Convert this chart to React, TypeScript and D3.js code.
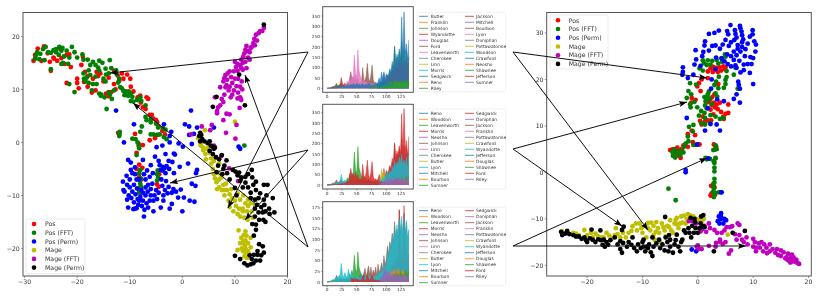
import React from "react";
import * as d3 from "d3";

type P = [number, number];

// ---------- left scatter ----------
const leftPos: P[] = [[-28.3,15.4],[-28,16.5],[-27.5,17.7],[-26.3,18.1],[-25.6,16.8],[-24.5,16],[-24,17.5],[-24.4,15.8],[-23,15.9],[-23.3,17.7],[-22,16.5],[-21.5,16.6],[-25,13.5],[-22.4,14.8],[-21.2,14.2],[-22,11.2],[-18.9,16.1],[-18.5,13.3],[-20,12],[-20,11.2],[-19.7,10.2],[-18.7,11.4],[-18,12.5],[-18,10.5],[-17.2,9.4],[-16.5,9.8],[-16,12.5],[-15.6,13],[-15,11.5],[-14.5,9.2],[-14,8.7],[-13.5,9.5],[-13,13.5],[-12.7,10],[-12.3,12.6],[-12,11.6],[-11.5,13],[-11.2,12],[-10.8,9.6],[-10.5,12.8],[-9.9,12],[-9.8,10.5],[-9.3,9.6],[-8.5,8.5],[-8,8.8],[-7.9,7.5],[-7.5,6.6],[-7,6.3],[-6.8,8.5],[-6.5,8.2],[-6.2,5.2],[-5.8,5.2],[-5.5,4.5],[-5,4.2],[-4.8,3.8],[-4.5,3],[-3.8,2.2],[-4.7,1.4],[-3.3,1.5],[-12.2,1.8],[-12,1.5],[-8.3,-.3],[-7.5,-.5],[-8.7,-2],[-8.7,-5],[-8.2,-6.5],[-7.8,-7],[-7.9,-8.6],[-8.1,-9.5],[-4.8,-7.9],[-4.5,-8.4],[-8.2,-4.2],[-7.6,-4.8],[-4.4,-6],[-17,12],[-16.3,13.3],[-14,12.2],[-19.2,14.6],[-13,11],[-26.8,15.4],[-25.2,15.2],[-23.8,15.4],[-9,1.6],[-6.2,.4],[-5.2,.8]];
const leftPosFFT: P[] = [[-28,15.8],[-27.8,16.5],[-27.6,17],[-27.2,15.7],[-27,16.7],[-26.5,17.6],[-26,18],[-26.2,15.5],[-25.5,17],[-25,16.9],[-24.5,17.4],[-24,17.6],[-23.5,16.5],[-24,17],[-23,17.3],[-23.4,18],[-22.8,17.8],[-22.5,16.2],[-22,17.3],[-21.5,16],[-21,18],[-20.5,17],[-20,16],[-19,16.6],[-25,13.8],[-23,14.8],[-22.7,15],[-21.7,14.8],[-21.5,11],[-20.5,9.5],[-18.8,15.6],[-18,15.6],[-17.5,14.6],[-17,15.2],[-16.5,14.6],[-15.8,15.4],[-16,14.1],[-15.2,15],[-14.6,13.9],[-13.8,15.5],[-13.5,14],[-14,13],[-17.8,13.6],[-18.8,13],[-18.2,12.2],[-17.5,12.7],[-16.5,12.4],[-15.8,13.5],[-15,12],[-14.5,12.8],[-18.7,12],[-18.4,11.5],[-17.8,11.2],[-17,11],[-14.6,11.5],[-16.3,11],[-17.2,9.8],[-15.8,9.2],[-15.4,9],[-14.8,8.5],[-15.5,8.8],[-14,9.5],[-13.8,9],[-13.4,8.2],[-12.6,13.6],[-12.5,12.9],[-12,12],[-12.2,11.3],[-11.8,10.4],[-11.2,9.7],[-10.8,9.5],[-10.2,9.6],[-9.8,9.2],[-9.5,8.6],[-9.8,7.8],[-9.3,7.7],[-8.6,8],[-8,8.5],[-7.8,7.8],[-7,7],[-10.3,8.8],[-11.5,10.2],[-13,9.8],[-11,8.9],[-14.4,6.3],[-7,4.8],[-6.8,4.2],[-6,4.5],[-6,3.8],[-5,3.5],[-4.6,2.8],[-3.7,2.7],[-3.2,2.4],[-4.8,1.4],[-4.3,1.5],[-3.5,1],[-3,.6],[-7.7,3],[-8,2],[-6,1.5],[-5.5,1.5],[-11.9,2],[-12,1.6],[-12,1.2],[-9.5,.7],[-8.9,.6],[-8.5,0],[-8.3,-.7],[-8.2,-1.1],[-8.7,-2.4],[-8,-5.2],[-8.2,-5.8],[-7.9,-6.8],[-8.1,-7.2],[-8,-7.8],[-7.9,-8.3],[-8,-9],[-8.2,-9.4],[-4.7,-5.3],[-4.8,-6],[-4.6,-6.6],[-4.8,-7.2],[11.8,-.6]];
const leftPosPerm: P[] = [[-12.6,6],[1.65,6],[-9.2,3.4],[-3.5,3.4],[.5,3.4],[1.3,3],[2.8,2.8],[-2.1,2],[-2.4,1.2],[1.3,1.4],[2.2,1.6],[-11.1,0],[-2.4,0],[-.7,-.2],[.1,-.8],[1.8,-.3],[-4.9,-.9],[-3.8,-.6],[10.7,-.8],[11,-1.2],[6,2.8],[-10.3,-3.3],[-9.8,-3.8],[-7.5,-3.3],[-5.2,-2.7],[-3.2,-2.2],[-1.6,-2.1],[-1.4,-2.3],[-2.6,-3.5],[-1.9,-3.7],[1.1,-4],[-.5,-4.6],[-4.3,-4.3],[-3.7,-4.6],[-4.1,-5.2],[-3.4,-4.9],[-6,-4.3],[2.8,-5.2],[2.6,-5.8],[-1.6,-5.8],[-9.8,-5.2],[-10.6,-6.3],[-11.3,-7.4],[-11.2,-9],[-11,-9.3],[-10.5,-10.8],[-10.3,-12.3],[-9.3,-12.6],[-8.7,-12.4],[-7.3,-14],[-5.5,-13],[-4.1,-12.3],[-2.4,-12.5],[-2,-11.6],[-3.6,-11],[-.8,-10.4],[.3,-10.4],[0,-13],[1.4,-11],[2.3,-11.2],[1.8,-7.8],[2.5,-8.2],[-1.7,-8.8],[-.3,-8.9],[-2.6,-8.4],[-3.1,-7.3],[-9,-6],[-8.7,-7],[-9.2,-8],[-8.6,-8.7],[-9.5,-9.3],[-8.9,-9.8],[-9.7,-10.5],[-8.5,-10.7],[-9.2,-11.3],[-8.4,-11.8],[-9,-12.5],[-8,-10.3],[-7.5,-11],[-7,-10],[-6.8,-11.5],[-7.7,-12],[-7.2,-12.7],[-6.5,-12.3],[-6.2,-11],[-6,-10],[-5.5,-11],[-6.6,-9.3],[-7,-8.5],[-6.5,-8],[-6,-8.8],[-5.7,-7.8],[-5,-9],[-4.5,-9.5],[-5.3,-10],[-4.8,-10.7],[-7,-7],[-6.2,-6.5],[-7.3,-6],[-6.7,-5.3],[-5.6,-5.8],[-4,-7],[-3.8,-8.2],[-3.3,-9],[-2.8,-9.6],[-3.6,-10],[-2,-9.5],[-1.2,-9.3],[-10,-8.5],[-10.5,-8],[-10,-7],[-9.5,-5.8],[-9,-4.7],[-10.2,-10],[-4.5,-3.5],[-3.8,-5.3],[-3.2,-5.8],[-3,-4.5],[-2.5,-5],[-8.2,-7],[-7.5,-9.5],[-8.2,-11],[-7.8,-9]];
const leftMage: P[] = [[3.5,-.6],[4,-1.5],[4.4,-2.2],[4,-1],[4.8,-1.2],[5.2,-2],[5.5,-3],[6,-3.5],[4.5,-3.2],[5,-.8],[5.5,-4],[5.8,-5],[6,-6],[6.2,-6.8],[6.5,-7.5],[6.8,-5.8],[7,-7],[7,-8.5],[7.5,-9],[8,-10],[7.8,-8],[8.3,-7.8],[8.5,-9],[8.8,-11],[9,-9.8],[9.5,-10.5],[9,-12.2],[9.7,-13],[10,-11],[10.2,-12],[10.5,-13.5],[10.8,-12.5],[11,-14],[11,-10.8],[11.5,-12.5],[11.5,-13],[11.8,-14.2],[12,-11.5],[12.3,-13],[12.5,-12],[13,-11.5],[13.2,-13],[13.8,-11.8],[14,-10.8],[10.7,-16.6],[12,-16.8],[11.2,-18],[11,-19],[11.7,-17.5],[11.5,-19],[12,-18.5],[12.5,-19],[12,-20],[12,-20.8],[12.5,-20.5],[11.8,-21.5],[12.3,-21.8],[13,-18],[13,-19.8],[11.3,-20],[12.7,-21],[10.5,-20.3],[11.5,-20.5],[7,-4],[4.3,2.3],[10,3.9],[3,.8],[3.5,-.2],[8,-9],[9.3,-8.8],[10.5,-9.6],[11.6,-10],[12.5,-10.8],[12.4,-14.6],[13.4,-14.2],[7.4,-6.6],[6.6,-8.8],[11.9,-19.5],[12.2,-17.6],[11.6,-18.6]];
const leftMageFFT: P[] = [[15.5,21.6],[15.2,21],[14.8,21],[14,20.3],[14.5,20.6],[13.7,19.5],[14.2,19.2],[13.5,18.7],[13.8,18.3],[13.2,18],[12.5,17.2],[12,17.5],[12.8,17],[11.8,16.8],[12.5,16],[11.6,16.2],[12.8,15.6],[11.2,15.6],[11.5,15],[12,15.2],[10.5,14.8],[11,14.5],[10.2,14.2],[10,15.2],[10.5,13.5],[11.5,13.7],[12.2,14],[9.8,13.4],[9,13.4],[8.6,13],[9.3,12.3],[8.2,12.7],[8,12.1],[7.8,11.5],[8.5,11.8],[10,12],[10.6,12],[11.3,11.5],[8.4,10.8],[9,10.5],[8.8,9.8],[7.2,10.4],[8.2,10.4],[11,10.5],[11.4,10],[10.6,9.4],[9.8,9.8],[9.5,9],[9.2,8.5],[10.5,8.3],[11,8.5],[8,9],[7.5,8.2],[6.2,8.5],[7.8,7.6],[11.2,8],[7.2,7],[6.8,6.6],[6.6,5.9],[10.9,6.5],[6.6,5.5],[8.4,5.4],[9,5.3],[7.8,4.2],[10.3,3.3],[8.3,1.8],[10.1,.7],[5.6,3.3],[3.7,3],[5.3,2.3],[1.7,1.5],[8.9,-4.9],[10.6,-7.3],[6,-.6],[7.4,-2.6],[13,17.8],[12.2,18.2],[11.2,14],[9.5,11.2],[10.3,10.6]];
const leftMagePerm: P[] = [[3.2,1.2],[3.4,1.8],[3.6,1.4],[3.8,.6],[3.4,.2],[4.2,.2],[4.8,-.1],[5.2,.2],[5.4,-.6],[5.8,-.8],[6,-1.2],[6.2,-1],[5.2,-1.6],[5.8,-2.2],[6.4,-2.8],[7,-3.2],[7.5,-2.4],[6.8,-4.4],[7.8,-5],[8,-4.4],[8.4,-3.4],[6.5,-5.6],[7.6,-6],[8.5,-5.8],[9,-7],[9.6,-5.2],[10.1,-5.5],[10.5,-6.2],[10.8,-5.7],[11.2,-6.6],[12,-6.5],[11,-7.3],[12,-7.6],[12.5,-6],[13.2,-5.2],[13.3,-6.6],[14,-7.4],[10,-8.6],[10.3,-10],[11.5,-8.5],[12.5,-8.5],[13,-9.5],[13.5,-8],[14,-9],[14.8,-9.6],[15.5,-8],[16.2,-8],[13,-10.5],[13.8,-10.8],[14.5,-10.5],[15.5,-10.8],[16,-10],[17.2,-10.5],[14.2,-11.8],[15,-12.2],[15.6,-11.8],[16.5,-12.5],[13.8,-12.5],[14.5,-13.2],[15.3,-13.2],[15.8,-13],[16.6,-13.5],[17.5,-13.2],[14.6,-14.6],[15.4,-14.6],[13.8,-14],[13.3,-15.4],[14,-15.5],[15.8,-15],[14,-16.5],[13.6,-17.6],[14.6,-19.2],[15.3,-19.6],[15.5,-20.8],[14.3,-20.5],[10,-21.4],[11,-22],[11.8,-22.8],[12.4,-23.2],[13,-23],[13.5,-22.8],[13.2,-22],[14,-22.3],[14.3,-21.2],[13.6,-21.2],[12.8,-21.3],[14.8,-22.3],[15,-21.3],[15.5,22.2],[10.8,12.8],[6.5,8.6],[5.8,6.7],[11.9,7]];

// ---------- right scatter ----------
const rightPos: P[] = [[1.8,21.7],[2.3,22.4],[2.7,21.6],[3.3,22.5],[3.6,21.6],[4.2,21.9],[4.6,22.8],[4.9,22.2],[2.8,22.7],[1.8,20.3],[.7,20],[.2,19.2],[-.1,18.5],[.5,17.5],[3.7,19],[-1.1,16],[-.4,15.6],[-1.2,15],[3,16.8],[2.6,16.2],[2.2,15.6],[1.8,15.1],[2.5,14.5],[2.3,13.5],[3.1,14],[3.6,13.6],[4,15],[5.5,14.6],[5,12.6],[4.6,12],[5.5,12.8],[4.7,11.5],[2.8,12.5],[2.4,11.2],[1.8,11.2],[.9,12],[.4,11.1],[.7,10.3],[-1.1,9],[-.5,8],[-1.8,8.2],[-.9,6.5],[-.4,5.9],[.3,6],[2.9,6],[3.2,5],[-4.5,5],[-4,4.2],[-3.6,4.6],[-3.2,4],[-3.1,3.1],[-5,4.8],[-3.7,5.3],[-1.8,5.5],[-2.6,5.8],[-3.2,4.8],[2.4,-2.9],[2.8,-2.5],[3,-3.2],[2.5,-4.5],[2.6,-5],[3.1,-4.8],[2.3,-5],[2.9,2.3],[3.2,3],[3,4.9],[3.3,5.6],[1.2,10.8],[3.4,14.6],[4.2,13],[2.9,15],[5,22.6],[3,22],[3.9,22.6],[-3.5,3.6],[-2.9,5]];
const rightPosFFT: P[] = [[1.1,23.5],[.9,24.1],[1.6,23.1],[.3,22.4],[.9,21.9],[1.8,24.1],[2.6,24],[3.4,24.2],[2.3,23.2],[3.7,23.4],[4.3,24.6],[4.9,25.4],[5,24.9],[4.4,23.8],[5.2,21.8],[5.2,20.5],[5,19.9],[5,19],[4.7,18.2],[3.8,20.6],[3.3,19.5],[3,18.8],[3.7,18.1],[3.2,17],[2,17.4],[1.8,16.8],[-.3,18.9],[-1.4,19.2],[-1.7,17.5],[-1.2,16.8],[-2,16],[-.6,15.2],[-1.4,14.6],[-1.3,14],[-.1,14],[1.2,16.2],[1.8,16],[2.2,15.8],[3.5,16.3],[2.5,14.7],[1.4,15.3],[1.3,14.4],[1.6,13.8],[1.2,12.8],[.6,13.2],[.2,12.2],[1.3,11.7],[2.3,12.3],[3.2,12],[4,11.5],[4.6,11.7],[2.2,10.6],[1.3,10.3],[.6,10.6],[-.8,10.2],[-1.6,9.8],[-.9,8.8],[-1.8,7.7],[-1.7,6.7],[-2.2,6.2],[-2.5,5.5],[-.8,5.9],[3.2,5.8],[2.8,4.8],[3.4,5],[-4.2,5],[-4.6,4.4],[-3.8,4.2],[-3.2,3.7],[-4.1,3.2],[-4.5,3.6],[-2.6,4.3],[-3.2,4.6],[-5.3,-3.5],[-4,-6],[1.4,3.1],[1.6,2.8],[2.2,2.9],[3,.2],[3,1],[3,2],[3.2,3.1],[2.9,2.4],[3,-1.4],[3,-2.2],[2.8,-2.8],[2.9,-3.4],[3.8,-4.3],[3.2,-4.4],[2.9,-5.3],[2.9,-4.8],[2.8,-4.1],[6.5,21],[6.8,22.5],[7.2,18]];
const rightPosPerm: P[] = [[5.9,31.7],[7.6,31.5],[7.7,31],[7.9,30.3],[3.8,30.5],[3,30],[2,29.8],[5.3,30.4],[5.5,29.7],[6.7,30.6],[6.8,29.8],[8,29.5],[8.2,28.6],[9.9,30.6],[9.9,29.7],[9.4,29.2],[10.2,28.2],[10.5,27.5],[10.4,26],[10,24.6],[9.5,24.8],[9,23.3],[8.3,23.2],[9.7,23.3],[8.6,26.5],[9,27.7],[8,27],[7.7,26],[7.2,27.4],[6.6,28.5],[6,28],[5.6,27.2],[5,28.5],[4.5,27.5],[4,26.6],[3.2,27.3],[2.6,27.2],[1.3,28.2],[1.2,27.3],[-.4,26.3],[1,25.9],[2,26.2],[.8,25],[-.3,24.3],[-.6,23.2],[.5,22.9],[-2.7,22.6],[-2.7,21.6],[-2.8,21],[-1.8,20.3],[-.8,21],[3.3,24.7],[4.3,24.5],[5.3,25.4],[6,25],[6.5,26],[7,25.2],[7.5,24],[6.8,23],[6,22.8],[5.4,23.3],[4.8,23.9],[7,22.5],[7.7,21.5],[8.3,22],[9.4,21.4],[10,19],[7.4,18.8],[7,16.8],[7.6,15],[6.5,15.8],[4.7,15.3],[3.5,15.7],[1.8,13.8],[-2,11.7],[2.3,10.4],[3.4,10.3],[4,9],[1.3,9],[-.1,6],[7.3,19.5],[7.6,18],[2.4,18],[2.5,20],[3.2,22.2],[6.5,24.2],[7.2,26.6],[8.5,25],[8,28],[7,29],[-2.2,.5],[-2.2,0],[1.9,3],[4.2,-8.8],[3.8,-9.5],[4.2,-10],[4.8,-10],[3.6,-10.5],[4.6,-11],[3.9,-11],[5.1,-10.3],[4.2,-9.6],[-1.1,-16.6],[-.3,-17],[4.3,-4.3],[4.2,-4.3]];
const rightMage: P[] = [[-24.5,-12.7],[-23.5,-13],[-22.5,-13],[-22,-13.2],[-21.5,-13.5],[-20.5,-12.4],[-20,-13.5],[-19.3,-13],[-19,-14],[-18.5,-13.2],[-18,-13.8],[-17.5,-14],[-17,-14],[-16.5,-13],[-16,-13.6],[-15.5,-14.2],[-15,-13.5],[-14.8,-12],[-14.5,-13.3],[-14,-14],[-13.5,-13],[-13,-14],[-12.5,-13],[-12,-12.6],[-11.8,-11.6],[-11.2,-11],[-11,-12.5],[-10.5,-11],[-10.2,-12],[-10,-13],[-9.5,-11.5],[-9.3,-14],[-9,-10.9],[-8.6,-12.5],[-8,-11.5],[-8,-13.5],[-7.8,-14.5],[-7.5,-10.7],[-7.2,-12],[-7,-13],[-6.8,-15],[-6.5,-11],[-6,-12.5],[-5.8,-13.8],[-5.5,-11.5],[-5,-10.3],[-4.8,-12.5],[-4.5,-13],[-4.2,-11],[-4,-10.2],[-3.8,-9.8],[-3.5,-12],[-3.2,-11],[-3,-9.5],[-2.8,-10.8],[-2.5,-9.3],[-2.2,-11],[-2,-10],[-1.8,-9],[-1.5,-10.2],[-1.3,-9.3],[-.8,-9.5],[-.3,-10],[.3,-10.2],[.8,-10.4],[1.1,-10],[5.4,-13.4],[-9,-12],[-7.6,-12.8],[-6.2,-11.8],[-8.4,-10.8],[-5.2,-11.8],[-3.8,-11.2]];
const rightMageFFT: P[] = [[-1.6,-10.5],[-1,-10.5],[-.3,-11],[.5,-12.7],[.8,-12.2],[1.2,-11.5],[2,-11],[2.2,-12],[1.5,-12.8],[3,-12.4],[3.5,-13],[4,-14.5],[4.3,-13],[4.8,-12.5],[5.2,-11.8],[5.8,-11.8],[6.2,-11.6],[7.2,-11],[7.5,-11.3],[6.7,-13.3],[7,-14.5],[7.5,-13.5],[8,-14.5],[8.3,-15],[8.8,-14],[9,-15.5],[5,-15],[4.5,-15.4],[4,-15],[3.3,-15.2],[3.2,-16],[2,-15.8],[0,-15.7],[-.2,-16],[.2,-16.5],[.7,-16.5],[5.6,-17.5],[6,-16.8],[10,-14.3],[10.3,-15],[10,-16],[10.5,-16.2],[10.5,-17],[11,-15.3],[11.2,-16.2],[11.5,-15],[11.8,-17],[12,-15.5],[12.4,-16.2],[12.5,-17.4],[13,-15.5],[13,-17],[13.5,-16.5],[14,-17.3],[14.3,-16.5],[14.5,-17.8],[15,-16.8],[15,-18],[15.5,-17.2],[15.8,-18.5],[16,-18.3],[16.3,-17.5],[16.5,-19],[16.8,-18.2],[17,-19.2],[17,-17.7],[17.3,-18.3],[17.5,-19.2],[17.8,-18.8],[18,-19.5],[18.3,-19.7],[16.2,-18.8],[16.7,-19.4],[17.2,-18.6]];
const rightMagePerm: P[] = [[-24.7,-12.8],[-24.5,-13.5],[-24,-13.2],[-23.6,-12.6],[-23.2,-13.3],[-22.5,-13.5],[-22,-13.8],[-21.5,-13.8],[-21,-14.3],[-20.5,-14],[-20.2,-14.6],[-20,-15],[-19.5,-14.2],[-19,-14.5],[-18.5,-15],[-18,-14.4],[-17.5,-14.6],[-17.2,-15.6],[-17,-14.5],[-16.8,-16],[-16.5,-15],[-16.2,-15.6],[-19.2,-12.3],[-17.6,-12.5],[-15.8,-14.6],[-15,-14],[-14.5,-15.5],[-14,-14.8],[-14,-16.5],[-13.7,-17.3],[-13.5,-15.2],[-13.4,-11.7],[-13.7,-12.4],[-12.8,-16],[-12.5,-15],[-12,-15.6],[-11.8,-14],[-11.5,-16.3],[-11,-17],[-10.8,-15.5],[-10.3,-16.3],[-10,-15],[-9.8,-16],[-9.5,-17],[-9.2,-16],[-9.8,-14.5],[-9,-16.3],[-8.8,-15.5],[-8.5,-17.2],[-8.2,-18],[-8.2,-14],[-8,-16],[-7.5,-15.3],[-7,-14.5],[-6.8,-16.3],[-6.4,-15.5],[-6,-16.8],[-5.8,-14],[-5.5,-15],[-5.3,-17],[-5.2,-13.5],[-5,-16],[-5,-14.5],[-4.5,-17.3],[-4.2,-15.5],[-4,-14.6],[-3.8,-13.4],[-3.5,-16],[-3.2,-17],[-3,-15],[-2.8,-14.5],[-2.5,-12.5],[-2.2,-13],[-1.7,-12],[-1.5,-13],[-1.2,-14],[-1,-11.5],[-.7,-13],[-.6,-10],[-.5,-10.7],[-.4,-12],[0,-13],[.3,-12],[.5,-11],[.6,-9.5],[1,-11.6],[1.2,-11.8],[-5.9,-9.6],[-1.3,-9.8],[1,-9.2],[6.3,-13],[8.5,-12.6],[2.9,-17]];

const classNames = ["Pos", "Pos (FFT)", "Pos (Perm)", "Mage", "Mage (FFT)", "Mage (Perm)"];
const classColors = ["#ff0000", "#008000", "#0000ff", "#bfbf00", "#bf00bf", "#000000"];
const leftClasses = [leftPos, leftPosFFT, leftPosPerm, leftMage, leftMageFFT, leftMagePerm];
const rightClasses = [rightPos, rightPosFFT, rightPosPerm, rightMage, rightMageFFT, rightMagePerm];

// ---------- counties, time series sampled every second day (end-aligned if shorter) ----------
const days = d3.range(0, 140, 2);
const legendTop = ["Butler","Franklin","Johnson","Wyandotte","Douglas","Ford","Leavenworth","Cherokee","Linn","Morris","Sedgwick","Reno","Riley","Jackson","Mitchell","Bourbon","Lyon","Doniphan","Pottawatomie","Woodson","Crawford","Neosho","Shawnee","Jefferson","Sumner"];
const legendRest = ["Reno","Woodson","Leavenworth","Morris","Neosho","Johnson","Linn","Cherokee","Butler","Lyon","Mitchell","Bourbon","Sumner","Sedgwick","Doniphan","Jackson","Franklin","Pottawatomie","Crawford","Wyandotte","Jefferson","Douglas","Shawnee","Ford","Riley"];
const tab10 = ["#1f77b4","#ff7f0e","#2ca02c","#d62728","#9467bd","#8c564b","#e377c2","#7f7f7f","#bcbd22","#17becf"];

const sedgwick = [1,2,1,3,2,5,4,8,6,10,6,12,8,14,9,12,10,18,14,12,20,15,22,18,12,24,16,20,14,18,22,12,16,20,14,25,16,18,12,15,20,12,24,30,50,30,25,50,80,45,70,55,70,95,75,130,100,200,120,165,140,190,135,345,150,370,170,215,140,235];
const johnson = [0,1,2,3,5,10,8,15,25,12,15,20,25,12,18,10,12,15,10,12,14,8,12,16,22,10,14,8,12,9,10,14,18,12,10,15,12,8,14,10,12,16,10,18,25,15,22,30,38,25,45,60,50,85,70,110,90,205,120,150,130,180,140,225,135,190,110,175,105,155];
const wyandotte = [0,0,1,2,4,6,8,10,14,10,12,18,52,20,15,25,18,12,30,14,20,15,18,10,14,12,16,10,12,8,14,10,12,15,8,12,10,14,9,12,8,10,18,12,25,16,30,22,40,30,50,65,45,70,55,90,70,115,85,110,95,135,100,150,90,120,85,135,75,150];
const ford = [0,0,0,0,1,2,1,3,2,4,3,6,5,8,6,10,8,20,15,40,80,45,55,35,60,30,50,25,30,22,100,45,35,60,120,50,30,60,112,40,25,30,20,15,22,12,18,10,15,10,12,8,15,10,18,12,20,10,25,14,22,12,18,10,20,14,16,10,12,8];
const leavenworth = [0,0,0,1,0,2,1,3,2,4,3,5,4,8,6,15,10,35,20,55,30,60,40,160,75,55,185,85,60,40,30,45,25,35,20,28,18,25,15,20,12,16,10,8,12,6,8,5,7,4,6,4,5,3,5,4,6,3,5,4,6,3,5,4,3,5,4,3,4,3];
const shawnee = [2,3,1,4,2,3,5,2,4,3,6,4,8,5,10,7,12,9,15,11,20,14,28,18,35,22,30,20,38,24,30,18,42,25,36];
const riley = [5,8,12,18,25,15,30,20,35,22,28,18,40,25,32,20,35,22,30,18,38,20,28,16,34];
const douglas = [2,4,3,6,5,10,8,15,12,18,14,22,16,28,18,25,15,30,20,35,18,28,15,24,20];
const crawford = [5,10,15,35,78,40,72,30,22,15,18,12,20,14,25,10,18,12,16,9,15,10,14,8,12,7,11,6];
const lyon = [3,5,2,6,4,8,5,10,6,12,8,14,9,16,10,12,8,15,9,11];
const countyValues: Record<string, number[]> = { Sedgwick: sedgwick, Johnson: johnson, Wyandotte: wyandotte, Ford: ford, Leavenworth: leavenworth, Shawnee: shawnee, Riley: riley, Douglas: douglas, Crawford: crawford, Lyon: lyon };

const johnsonFFT = [0,1,1,2,3,5,4,8,16,6,8,10,12,6,8,5,6,8,5,6,8,14,10,12,8,10,6,8,18,12,14,20,32,12,25,38,16,35,15,28,18,35,15,42,22,30,45,28,62,38,55,85,65,95,80,115,95,142,105,125,100,170,115,135,105,162,110,140,95,122];
const sedgwickFFT = [0,1,1,2,1,3,2,4,3,5,3,6,4,7,4,6,3,5,4,6,3,7,4,6,5,8,4,6,3,5,4,7,3,6,4,8,5,6,4,7,5,8,4,9,5,10,6,12,8,10,12,20,15,30,22,40,30,55,35,60,40,170,50,70,45,180,60,80,45,65];
const wyandotteFFT = [0,0,1,2,3,5,6,8,10,12,14,18,44,16,12,22,14,10,30,12,15,28,10,12,8,14,10,12,8,20,12,8,10,15,8,12,14,9,12,8,14,10,18,12,25,15,30,22,45,28,40,70,55,90,70,110,85,125,100,135,105,148,115,155,110,150,105,145,100,125];
const leavenworthFFT = [0,0,0,1,0,1,1,2,1,3,2,3,2,4,3,8,5,12,8,20,12,25,18,63,30,22,71,35,25,15,12,18,10,14,8,12,7,10,6,8,5,7,4,3,5,2,3,2,3,2,3,2,3,2,3,2,3,2,3,2,3,2,3,2,3,2,3,2,3,2];
const fordFFT = [10,6,8,5,9,4,7,4,5,3,14,6,5,4,18,7,5,9,16,6,4,5,3,3,4,2,3,2,3,2,3,2,4,2,3,2,4,2,3,2,3,2,3,2,3,2,3,2,2,2];
const douglasFFT = [2,4,3,8,5,12,8,18,12,25,15,30,18,28,15,32,20,25,14,30,18,24,12,22,15];
const rileyFFT = [5,10,15,22,32,18,25,15,22,14,18,12,20,14,18,10,16,12,15,10,18,12,14,10,14];
const shawneeFFT = [3,5,4,8,6,10,7,12,9,15,10,18,12,22,14,20,12,25,14,18,12,28,15,22,26];
const fftValues: Record<string, number[]> = { Johnson: johnsonFFT, Sedgwick: sedgwickFFT, Wyandotte: wyandotteFFT, Leavenworth: leavenworthFFT, Ford: fordFFT, Douglas: douglasFFT, Riley: rileyFFT, Shawnee: shawneeFFT };

// ---------- arrows (tail x, tail y, tip x, tip y) ----------
const arrowSegments = [
  [308,52,110,73],[308,52,228,208],[308,150,170,183],[308,150,245,220],[308,247,133,103],[308,247,245,75],
  [513,52,707,78],[513,52,648,230],[513,149,687,102],[513,149,622,226],[513,246,707,158],[513,246,746,246],
];

const leftXTicks = [-30,-20,-10,0,10,20];
const leftYTicks = [-20,-10,0,10,20];
const rightXTicks = [-20,-10,0,10,20];
const rightYTicks = [-20,-10,0,10,20,30];
const seriesXTicks = [0,25,50,75,100,125];
const topYTicks = [0,50,100,150,200,250,300,350];
const fftYTicks = [0,25,50,75,100,125,150,175];

const SPINE = "#555";
const INK = "#333";
const FONT = "'DejaVu Sans', sans-serif";
const minus = (v: number) => (v < 0 ? "\u2212" + Math.abs(v) : String(v));

function Frame({ x, y, xTicks, yTicks, fs, tl }: any) {
  const [x0, x1] = x.range();
  const [y0, y1] = y.range();
  return (
    <g fontFamily={FONT} fontSize={fs} fill={INK}>
      {xTicks.map((t: number) => (
        <g key={t}>
          <line x1={x(t)} x2={x(t)} y1={y0} y2={y0 + tl} stroke={INK} strokeWidth={0.5} />
          <text x={x(t)} y={y0 + tl + fs * 0.95} textAnchor="middle">{minus(t)}</text>
        </g>
      ))}
      {yTicks.map((t: number) => (
        <g key={t}>
          <line x1={x0 - tl} x2={x0} y1={y(t)} y2={y(t)} stroke={INK} strokeWidth={0.5} />
          <text x={x0 - tl - 1.2} y={y(t) + fs * 0.36} textAnchor="end">{minus(t)}</text>
        </g>
      ))}
      <rect x={x0} y={y1} width={x1 - x0} height={y0 - y1} fill="none" stroke={SPINE} strokeWidth={1} />
    </g>
  );
}

function Scatter({ x, y, classes }: any) {
  return (
    <g>
      {classes.map((pts: P[], i: number) => (
        <g key={i} fill={classColors[i]}>
          {pts.map((p, j) => <circle key={j} cx={x(p[0])} cy={y(p[1])} r={2.4} />)}
        </g>
      ))}
    </g>
  );
}

function ClassLegend({ bx, by, bw, bh, mx, tx, ty }: any) {
  return (
    <g fontFamily={FONT} fontSize={6.2} fill={INK}>
      <rect x={bx} y={by} width={bw} height={bh} rx={1.5} fill="#fff" fillOpacity={0.8} stroke="#ddd" strokeWidth={0.6} />
      {classNames.map((n, i) => (
        <g key={n}>
          <circle cx={mx} cy={ty + i * 8.72} r={2.3} fill={classColors[i]} />
          <text x={tx} y={ty + i * 8.72 + 2.2}>{n}</text>
        </g>
      ))}
    </g>
  );
}

function SeriesPanel({ top, bottom, zeroY, maxTick, maxTickY, names, values, ticks }: any) {
  const x = d3.scaleLinear().domain([-7.4, 145.6]).range([322.7, 413.3]);
  const y = d3.scaleLinear().domain([0, maxTick]).range([zeroY, maxTickY]);
  const yFrame = y.copy().domain([y.invert(bottom), y.invert(top)]).range([bottom, top]);
  return (
    <g>
      {names.map((n: string, i: number) => {
        const vals: number[] | undefined = values[n];
        if (!vals) return null;
        const color = tab10[i % 10];
        const offset = days.length - vals.length;
        const pts = vals.map((v, j) => [x(days[j + offset]), y(v)] as [number, number]);
        const a = d3.area<[number, number]>().x((p) => p[0]).y0(zeroY).y1((p) => p[1]);
        const l = d3.line();
        return (
          <g key={n}>
            <path d={a(pts) || ""} fill={color} fillOpacity={0.82} />
            <path d={l(pts) || ""} fill="none" stroke={color} strokeOpacity={0.55} strokeWidth={0.9} />
          </g>
        );
      })}
      <Frame x={x} y={yFrame} xTicks={seriesXTicks} yTicks={ticks} fs={4.3} tl={1.5} />
    </g>
  );
}

function CountyLegend({ top, bottom, names, firstRow }: any) {
  return (
    <g fontFamily={FONT} fontSize={4.4} fill={INK}>
      <rect x={417.3} y={top} width={88.4} height={bottom - top} rx={1} fill="#fff" stroke="#e2e2e2" strokeWidth={0.5} />
      {names.map((n: string, i: number) => {
        const col = i < 13 ? 0 : 1;
        const row = col === 0 ? i : i - 13;
        const lx = col === 0 ? 419 : 465;
        const ty = firstRow + row * 6;
        return (
          <g key={n}>
            <line x1={lx} x2={lx + 9} y1={ty} y2={ty} stroke={tab10[i % 10]} strokeWidth={0.8} />
            <text x={col === 0 ? 430.7 : 476} y={ty + 1.6}>{n}</text>
          </g>
        );
      })}
    </g>
  );
}

export default function App() {
  const lx = d3.scaleLinear().domain([-30.3, 20]).range([23, 287.5]);
  const ly = d3.scaleLinear().domain([-25.2, 24.5]).range([276, 12.5]);
  const rx = d3.scaleLinear().domain([-27.3, 20.5]).range([546.7, 811.3]);
  const ry = d3.scaleLinear().domain([-22.3, 34.4]).range([276, 12.5]);
  return (
    <svg width={831} height={300} viewBox="0 0 831 300" style={{ position: "fixed", left: 0, top: 0, background: "#fff" }}>
      <defs>
        <filter id="soft" x="0" y="0" width="100%" height="100%">
          <feGaussianBlur stdDeviation="0.45" />
        </filter>
        <marker id="head" viewBox="0 0 8 6" refX="8" refY="3" markerWidth="8" markerHeight="6" markerUnits="userSpaceOnUse" orient="auto">
          <path d="M0,0 L8,3 L0,6 L1.5,3 Z" fill="#000" />
        </marker>
      </defs>
      <rect width={831} height={300} fill="#fff" />
      <g filter="url(#soft)">
        <Scatter x={lx} y={ly} classes={leftClasses} />
        <Frame x={lx} y={ly} xTicks={leftXTicks} yTicks={leftYTicks} fs={6.2} tl={2} />
        <ClassLegend bx={26} by={219} bw={59} bh={54.5} mx={34} tx={45} ty={224} />

        <Scatter x={rx} y={ry} classes={rightClasses} />
        <Frame x={rx} y={ry} xTicks={rightXTicks} yTicks={rightYTicks} fs={6.2} tl={2} />
        <ClassLegend bx={550} by={15} bw={58} bh={54} mx={558} tx={568.7} ty={20.3} />

        <SeriesPanel top={6.7} bottom={92.3} zeroY={88.3} maxTick={350} maxTickY={16} names={legendTop} values={countyValues} ticks={topYTicks} />
        <CountyLegend top={12.3} bottom={91.7} names={legendTop} firstRow={16.3} />
        <SeriesPanel top={104.3} bottom={189} zeroY={185} maxTick={350} maxTickY={112.7} names={legendRest} values={countyValues} ticks={topYTicks} />
        <CountyLegend top={109} bottom={189} names={legendRest} firstRow={113.3} />
        <SeriesPanel top={201.7} bottom={285.7} zeroY={282} maxTick={175} maxTickY={207.7} names={legendRest} values={fftValues} ticks={fftYTicks} />
        <CountyLegend top={207.3} bottom={285.7} names={legendRest} firstRow={210.7} />

        {arrowSegments.map((s, i) => (
          <line key={i} x1={s[0]} y1={s[1]} x2={s[2]} y2={s[3]} stroke="#111" strokeWidth={1} markerEnd="url(#head)" />
        ))}
      </g>
    </svg>
  );
}
